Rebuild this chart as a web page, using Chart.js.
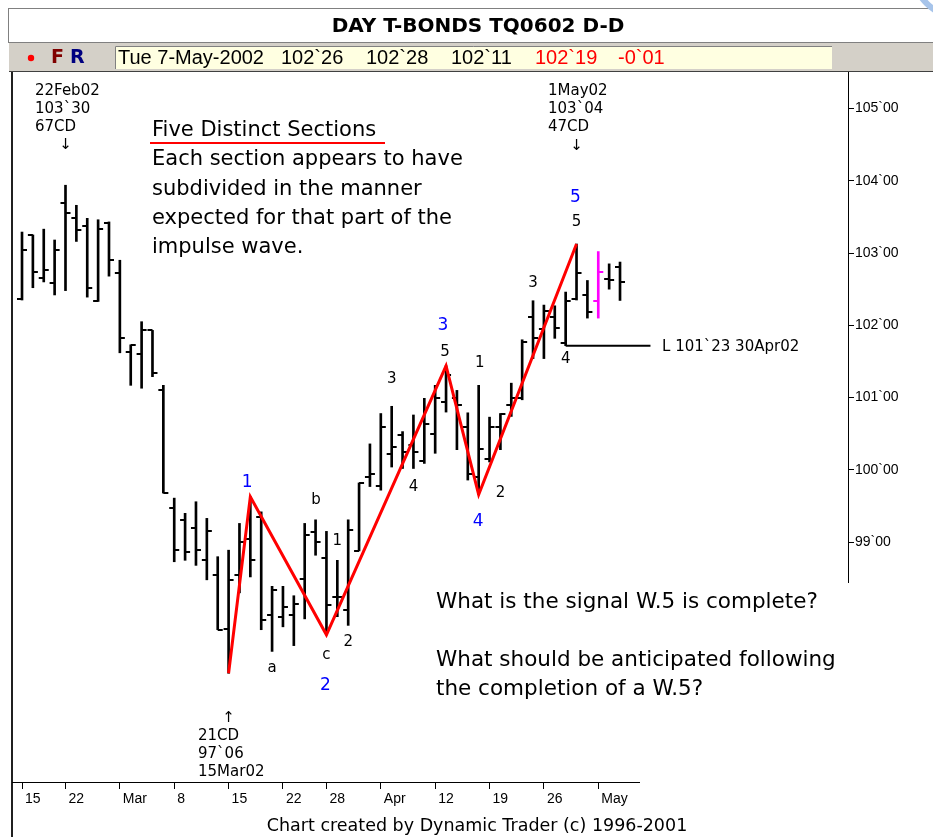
<!DOCTYPE html>
<html>
<head>
<meta charset="utf-8">
<title>DAY T-BONDS TQ0602 D-D</title>
<script src="https://cdn.jsdelivr.net/npm/chart.js@4.4.1/dist/chart.umd.min.js"></script>
<style>
  html, body { margin: 0; padding: 0; background: #fff; }
  #wrap { width: 933px; height: 837px; position: relative; }
</style>
</head>
<body>
<div id="wrap"><canvas id="chart" width="933" height="837"></canvas></div>
<script>
// trading days, 15 Feb 2002 .. 7 May 2002
const dates = [
  '15Feb', '19Feb', '20Feb', '21Feb', '22Feb', '25Feb', '26Feb', '27Feb', '28Feb',
  '1Mar', '4Mar', '5Mar', '6Mar', '7Mar', '8Mar', '11Mar', '12Mar', '13Mar', '14Mar', '15Mar',
  '18Mar', '19Mar', '20Mar', '21Mar', '22Mar', '25Mar', '26Mar', '27Mar', '28Mar',
  '1Apr', '2Apr', '3Apr', '4Apr', '5Apr', '8Apr', '9Apr', '10Apr', '11Apr', '12Apr',
  '15Apr', '16Apr', '17Apr', '18Apr', '19Apr', '22Apr', '23Apr', '24Apr', '25Apr', '26Apr',
  '29Apr', '30Apr', '1May', '2May', '3May', '6May', '7May'
];
const opens = [
  102.37, 103.25, 102.65, 102.58, 103.69, 103.48, 103.37, 102.33, 103.41,
  102.72, 101.63, 101.60, 101.93, 101.11, 99.47, 99.31, 99.19, 98.75, 98.55, 97.80,
  98.55, 99.05, 99.35, 98.00, 97.97, 97.99, 98.49, 99.14, 98.78,
  98.24, 98.06, 98.88, 99.90, 99.78, 100.22, 100.48, 100.34, 100.12, 100.50,
  100.94, 101.00, 100.59, 99.90, 100.15, 100.60, 100.90, 100.99, 102.12, 101.95,
  102.11, 101.75, 102.37, 102.42, 102.34, 102.64, 102.8125
];
const highs = [
  103.29, 103.25, 103.33, 103.18, 103.9375, 103.66, 103.48, 103.46, 103.43,
  102.90, 101.73, 102.05, 101.93, 101.17, 99.61, 99.40, 99.56, 99.33, 98.80, 98.89,
  99.26, 99.63, 99.42, 98.39, 98.39, 98.26, 99.26, 99.31, 99.15,
  98.75, 99.31, 99.82, 100.36, 100.78, 100.88, 100.53, 100.76, 100.99, 101.17,
  101.44, 101.10, 100.79, 101.17, 100.73, 100.78, 101.20, 101.80, 102.34, 102.28,
  102.27, 102.46, 103.125, 102.62, 103.02, 102.85, 102.875
];
const lows = [
  102.35, 102.52, 102.60, 102.42, 102.48, 103.16, 102.39, 102.33, 102.68,
  101.62, 101.17, 101.13, 101.29, 99.68, 98.73, 98.75, 98.68, 98.48, 97.79, 97.1875,
  98.30, 98.52, 97.79, 97.49, 97.83, 97.57, 97.94, 98.82, 97.72,
  97.97, 97.85, 98.88, 99.77, 99.72, 100.04, 100.02, 100.02, 100.09, 100.23,
  100.80, 100.28, 99.86, 99.66, 100.11, 100.28, 100.74, 100.97, 101.54, 101.54,
  101.82, 101.71875, 102.35, 102.10, 102.10, 102.50, 102.34375
];
const closes = [
  103.04, 102.74, 102.76, 103.04, 103.55, 103.32, 102.51, 103.33, 102.91,
  101.82, 101.73, 101.93, 101.34, 99.68, 98.89, 98.87, 98.89, 99.15, 97.79, 98.48,
  99.00, 98.75, 97.92, 98.34, 98.11, 98.15, 99.10, 99.01, 98.13,
  98.24, 99.17, 99.82, 99.94, 100.60, 100.32, 100.25, 100.25, 100.64, 100.99,
  101.31, 100.90, 99.95, 100.29, 100.59, 100.78, 100.99, 101.77, 101.82, 102.20,
  101.96, 102.34, 102.72, 102.19, 102.74, 102.625, 102.59375
];

// Friday (week end) ticks
const weekTicks = [0, 4, 9, 14, 19, 24, 28, 33, 38, 43, 48, 53];
const weekLabels = ['15', '22', 'Mar', '8', '15', '22', '28', 'Apr', '12', '19', '26', 'May'];
const priceTicks = [99, 100, 101, 102, 103, 104, 105];

// wave pivots (red count line)
const waveIdx = [19, 21, 28, 39, 42, 51];
const wavePrice = [97.1875, 99.63, 97.72, 101.44, 99.66, 103.125];

const lastLowIdx = 50;
const lastLow = 101.71875;
const highlightIdx = 53;

// 32nds formatting: 102.59375 -> 102`19
function fmt32(v) {
  const whole = Math.floor(v + 1e-9);
  const t = Math.round((v - whole) * 32);
  return whole + '`' + String(t).padStart(2, '0');
}

// wave count labels: [text, day index, price, blue?]
const waveLabels = [
  ['1', 20.7, 99.82, true], ['2', 27.9, 97.02, true], ['3', 38.7, 102.0, true],
  ['4', 41.95, 99.28, true], ['5', 50.9, 103.77, true],
  ['a', 23.0, 97.26, false], ['b', 27.05, 99.58, false], ['c', 28.0, 97.44, false],
  ['1', 29.0, 99.02, false], ['2', 30.0, 97.62, false], ['3', 34.0, 101.26, false],
  ['4', 36.0, 99.76, false], ['5', 38.9, 101.63, false], ['1', 42.1, 101.48, false],
  ['2', 44.0, 99.68, false], ['3', 47.0, 102.59, false], ['4', 50.0, 101.53, false],
  ['5', 51.0, 103.43, false]
];

const barColors = dates.map((d, i) => i === highlightIdx ? '#ff00ff' : '#000000');

// header, frame and text annotations
const dtFrame = {
  id: 'dtFrame',
  beforeDraw(chart) {
    const ctx = chart.ctx;
    ctx.save();
    ctx.fillStyle = '#ffffff';
    ctx.fillRect(0, 0, chart.width, chart.height);

    // title box
    ctx.strokeStyle = '#808080';
    ctx.lineWidth = 1;
    ctx.strokeRect(8.5, 8.5, 940, 34);
    ctx.fillStyle = '#000';
    ctx.font = 'bold 20px "DejaVu Sans"';
    ctx.textAlign = 'center';
    ctx.textBaseline = 'middle';
    ctx.fillText('DAY T-BONDS TQ0602 D-D', 478, 27);

    // grey status bar
    ctx.fillStyle = '#d4d0c8';
    ctx.fillRect(9, 43, 924, 28);
    ctx.fillStyle = '#404040';
    ctx.fillRect(9, 71, 924, 1);
    ctx.fillStyle = '#ffffe1';
    ctx.fillRect(115, 46, 717, 23);
    ctx.strokeStyle = '#808080';
    ctx.beginPath();
    ctx.moveTo(115.5, 69); ctx.lineTo(115.5, 46.5); ctx.lineTo(832, 46.5);
    ctx.stroke();

    ctx.fillStyle = '#ff0000';
    ctx.beginPath();
    ctx.arc(31, 58, 3.2, 0, Math.PI * 2);
    ctx.fill();
    ctx.font = 'bold 19px "DejaVu Sans"';
    ctx.textAlign = 'left';
    ctx.fillStyle = '#800000';
    ctx.fillText('F', 51, 58);
    ctx.fillStyle = '#000080';
    ctx.fillText('R', 70, 58);

    const last = dates.length - 1;
    ctx.font = '20px "Liberation Sans"';
    ctx.fillStyle = '#000';
    ctx.fillText('Tue 7-May-2002', 118, 58);
    ctx.fillText(fmt32(opens[last]), 281, 58);
    ctx.fillText(fmt32(highs[last]), 366, 58);
    ctx.fillText(fmt32(lows[last]), 451, 58);
    ctx.fillStyle = '#ff0000';
    ctx.fillText(fmt32(closes[last]), 535, 58);
    ctx.fillText('-' + fmt32(closes[last - 1] - closes[last]), 618, 58);

    // corner decoration
    ctx.strokeStyle = '#a7c4ea';
    ctx.lineWidth = 6;
    ctx.beginPath();
    ctx.arc(962, -32, 50, Math.PI * 0.5, Math.PI);
    ctx.stroke();

    // left frame
    ctx.fillStyle = '#202020';
    ctx.fillRect(11, 72, 2, 765);

    // footer
    ctx.fillStyle = '#000';
    ctx.font = '17.5px "DejaVu Sans"';
    ctx.textAlign = 'center';
    ctx.fillText('Chart created by Dynamic Trader (c) 1996-2001', 477, 826);
    ctx.restore();
  },
  afterDatasetDraw(chart, args) {
    if (args.index !== 2) return;
    const { ctx, scales: { x, y } } = chart;
    ctx.save();
    ctx.lineWidth = 2;
    opens.forEach((o, i) => {
      const px = x.getPixelForValue(i);
      const yo = Math.round(y.getPixelForValue(o));
      const yc = Math.round(y.getPixelForValue(closes[i]));
      ctx.strokeStyle = barColors[i];
      ctx.beginPath();
      ctx.moveTo(px - 5, yo); ctx.lineTo(px, yo);
      ctx.moveTo(px, yc); ctx.lineTo(px + 5, yc);
      ctx.stroke();
    });
    ctx.restore();
  },
  afterDraw(chart) {
    const { ctx, chartArea: a, scales: { x, y } } = chart;
    ctx.save();
    // truncated axis lines
    ctx.fillStyle = '#000';
    ctx.fillRect(a.right - 1, a.top, 1, 511);
    ctx.fillRect(a.left, a.bottom - 1, 628, 1);

    ctx.textBaseline = 'middle';
    waveLabels.forEach(([t, i, p, blue]) => {
      ctx.fillStyle = blue ? '#0000ff' : '#000';
      ctx.font = blue ? '17px "DejaVu Sans"' : '15px "DejaVu Sans"';
      ctx.textAlign = 'center';
      ctx.fillText(t, x.getPixelForValue(i), y.getPixelForValue(p));
    });

    // pivot notes
    ctx.fillStyle = '#000';
    ctx.font = '15px "DejaVu Sans"';
    ctx.textAlign = 'left';
    const note = (lines, lx, ly) => lines.forEach((s, k) => ctx.fillText(s, lx, ly + k * 18));
    note(['22Feb02', fmt32(highs[4]), '67CD'], 35, 91);
    note(['1May02', fmt32(highs[51]), '47CD'], 548, 91);
    note(['21CD', fmt32(lows[19]), '15Mar02'], 198, 736);
    ctx.textAlign = 'center';
    ctx.fillText('\u2193', x.getPixelForValue(4), 145);
    ctx.fillText('\u2193', x.getPixelForValue(51), 146);
    ctx.fillText('\u2191', x.getPixelForValue(19), 718);

    ctx.textAlign = 'left';
    ctx.font = '15px "DejaVu Sans"';
    ctx.fillText('L ' + fmt32(lastLow) + ' 30Apr02', 662, y.getPixelForValue(lastLow) + 1);

    // commentary
    ctx.font = '21px "DejaVu Sans"';
    ctx.fillText('Five Distinct Sections', 152, 131);
    ctx.fillStyle = '#ff0000';
    ctx.fillRect(150, 142, 235, 2);
    ctx.fillStyle = '#000';
    ['Each section appears to have', 'subdivided in the manner',
     'expected for that part of the', 'impulse wave.'].forEach((s, k) => ctx.fillText(s, 152, 160 + k * 29.3));
    ctx.font = '21.5px "DejaVu Sans"';
    ctx.fillText('What is the signal W.5 is complete?', 436, 602);
    ctx.fillText('What should be anticipated following', 436, 660);
    ctx.fillText('the completion of a W.5?', 436, 689);
    ctx.restore();
  }
};

Chart.defaults.font.family = '"DejaVu Sans"';
Chart.defaults.color = '#000';

new Chart(document.getElementById('chart'), {
  type: 'bar',
  data: {
    datasets: [
      {
        type: 'line',
        label: 'Wave count',
        data: waveIdx.map((d, k) => ({ x: d, y: wavePrice[k] })),
        borderColor: '#ff0000',
        borderWidth: 3,
        pointRadius: 0,
        tension: 0,
        order: 0
      },
      {
        type: 'line',
        label: 'Last low',
        data: [{ x: lastLowIdx, y: lastLow }, { x: 57.8, y: lastLow }],
        borderColor: '#000',
        borderWidth: 2,
        pointRadius: 0,
        order: 1
      },
      {
        type: 'bar',
        label: 'TQ0602',
        data: highs.map((h, i) => ({ x: i, y: [lows[i], h] })),
        backgroundColor: barColors,
        barThickness: 2,
        order: 2
      }
    ]
  },
  options: {
    responsive: false,
    animation: false,
    layout: { padding: { left: 12, top: 72, right: 0, bottom: 0 } },
    plugins: { legend: { display: false }, tooltip: { enabled: false } },
    scales: {
      x: {
        type: 'linear',
        min: -0.92,
        max: 76.06,
        offset: false,
        grid: { drawOnChartArea: false, offset: false, tickLength: 6, color: '#000' },
        border: { display: false },
        afterBuildTicks: s => { s.ticks = weekTicks.map(v => ({ value: v })); },
        ticks: {
          callback: (v, i) => weekLabels[i],
          align: 'start',
          labelOffset: 3,
          padding: 2,
          autoSkip: false,
          maxRotation: 0,
          font: { family: '"Liberation Sans"', size: 14 }
        },
        afterFit: s => { s.height = 54; }
      },
      y: {
        position: 'right',
        min: 95.67,
        max: 105.5035,
        grid: { drawOnChartArea: false, tickLength: 5, color: '#000' },
        border: { display: false },
        afterBuildTicks: s => { s.ticks = priceTicks.map(v => ({ value: v })); },
        ticks: {
          callback: v => fmt32(v),
          padding: 1,
          font: { family: '"Liberation Sans"', size: 14 }
        },
        afterFit: s => { s.width = 84; }
      }
    }
  },
  plugins: [dtFrame]
});
</script>
</body>
</html>
